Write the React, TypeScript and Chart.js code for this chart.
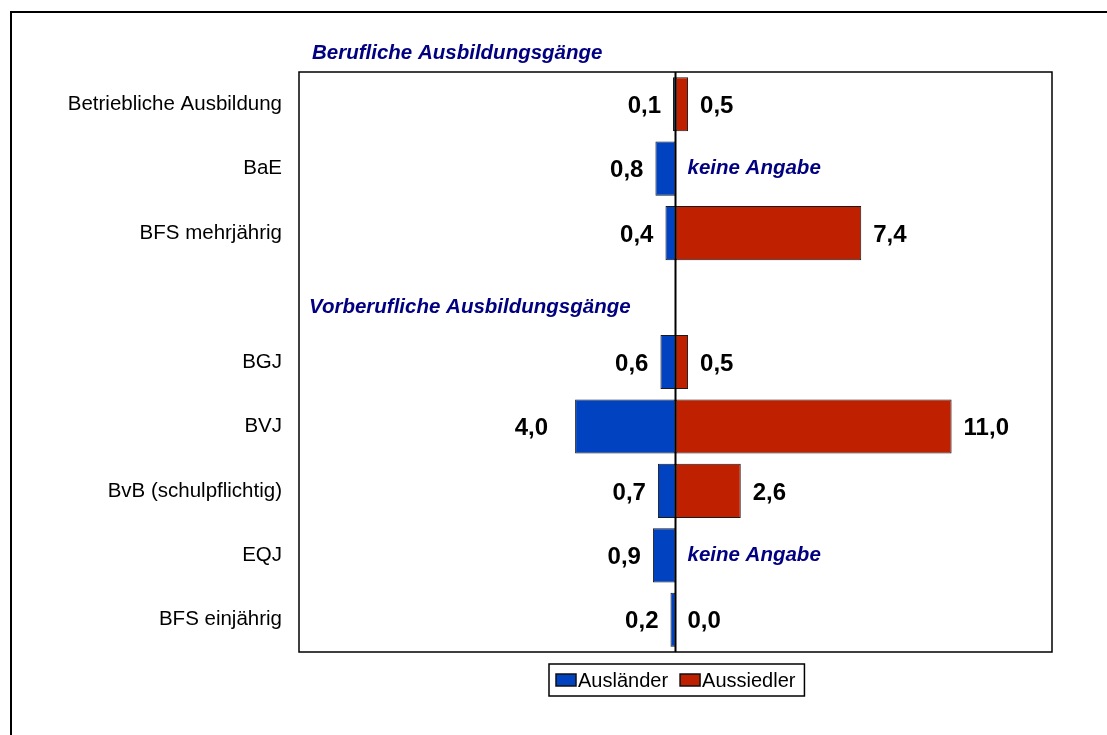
import React, { useEffect, useRef } from "react";
import { Chart, registerables } from "chart.js";

Chart.register(...registerables);

const categories = [
  "Betriebliche Ausbildung",
  "BaE",
  "BFS mehrjährig",
  "",
  "BGJ",
  "BVJ",
  "BvB (schulpflichtig)",
  "EQJ",
  "BFS einjährig",
];
const auslaender: (number | null)[] = [0.1, 0.8, 0.4, null, 0.6, 4.0, 0.7, 0.9, 0.2];
const aussiedler: (number | null)[] = [0.5, null, 7.4, null, 0.5, 11.0, 2.6, null, 0.0];
const seriesNames = ["Ausländer", "Aussiedler"];
const sectionHeaders = ["Berufliche Ausbildungsgänge", "Vorberufliche Ausbildungsgänge"];
const noDataText = "keine Angabe";
const axisMin = -15;
const axisMax = 15;

const FONT = "'Liberation Sans', Arial, Helvetica, sans-serif";
const BLUE = "#0042C0";
const RED = "#BE2000";
const NAVY = "#000080";

const fmt = (v: number) => Math.abs(v).toFixed(1).replace(".", ",");

const decorPlugin = {
  id: "decor",
  beforeDraw(chart: any) {
    const ctx = chart.ctx;
    ctx.save();
    ctx.fillStyle = "#fff";
    ctx.fillRect(0, 0, chart.width, chart.height);
    ctx.strokeStyle = "#000";
    ctx.lineWidth = 2;
    ctx.strokeRect(11, 12, chart.width + 40, chart.height + 40);
    ctx.restore();
  },
  afterDatasetsDraw(chart: any) {
    const { ctx, chartArea: a, scales } = chart;
    const xs = scales.x;
    const ys = scales.y;
    const x0 = xs.getPixelForValue(0);
    ctx.save();
    // plot border
    ctx.strokeStyle = "#000";
    ctx.lineWidth = 1.5;
    ctx.strokeRect(a.left, a.top, a.right - a.left, a.bottom - a.top);
    // zero line
    ctx.lineWidth = 2;
    ctx.beginPath();
    ctx.moveTo(x0, a.top);
    ctx.lineTo(x0, a.bottom);
    ctx.stroke();

    // value labels
    const sources = [auslaender, aussiedler];
    ctx.textBaseline = "middle";
    sources.forEach((arr, di) => {
      arr.forEach((v, i) => {
        const y = ys.getPixelForValue(i);
        if (v === null) {
          if (di === 1 && categories[i]) {
            ctx.font = `italic bold 20.5px ${FONT}`;
            ctx.fillStyle = NAVY;
            ctx.textAlign = "left";
            ctx.fillText(noDataText, x0 + 12, y);
          }
          return;
        }
        ctx.font = `bold 24px ${FONT}`;
        ctx.fillStyle = "#000";
        if (di === 0) {
          const xe = xs.getPixelForValue(-v);
          // wide bars get their label pushed a bit further out (as in the original)
          const gap = v >= 2 ? 27 : 12;
          ctx.textAlign = "right";
          ctx.fillText(fmt(v), xe - gap, y + 2);
        } else {
          const xe = xs.getPixelForValue(v);
          ctx.textAlign = "left";
          ctx.fillText(fmt(v), xe + 12, y + 2);
        }
      });
    });

    // section headers
    ctx.font = `italic bold 20.5px ${FONT}`;
    ctx.fillStyle = NAVY;
    ctx.textAlign = "left";
    ctx.fillText(sectionHeaders[0], a.left + 13, a.top - 19);
    ctx.fillText(sectionHeaders[1], a.left + 10, ys.getPixelForValue(3) + 10);

    // legend
    ctx.font = `20px ${FONT}`;
    const colors = [BLUE, RED];
    const sw = 20, sh = 12, padL = 7, padR = 9, gapText = 2, gapItem = 12;
    const widths = seriesNames.map((n) => ctx.measureText(n).width);
    let total = padL + padR;
    widths.forEach((w, i) => {
      total += sw + gapText + w + (i < widths.length - 1 ? gapItem : 0);
    });
    const cx = (a.left + a.right) / 2 + 1;
    const lx = Math.round(cx - total / 2);
    const ly = a.bottom + 12;
    const lh = 32;
    ctx.fillStyle = "#fff";
    ctx.fillRect(lx, ly, total, lh);
    ctx.strokeStyle = "#000";
    ctx.lineWidth = 1.5;
    ctx.strokeRect(lx, ly, total, lh);
    let x = lx + padL;
    const cy = ly + lh / 2;
    seriesNames.forEach((n, i) => {
      ctx.fillStyle = colors[i];
      ctx.fillRect(x, cy - sh / 2, sw, sh);
      ctx.lineWidth = 1.5;
      ctx.strokeStyle = "#111";
      ctx.strokeRect(x, cy - sh / 2, sw, sh);
      ctx.fillStyle = "#000";
      ctx.textAlign = "left";
      ctx.textBaseline = "middle";
      ctx.fillText(n, x + sw + gapText, cy + 1);
      x += sw + gapText + widths[i] + gapItem;
    });
    ctx.restore();
  },
};

export default function App() {
  const ref = useRef<HTMLCanvasElement | null>(null);
  useEffect(() => {
    if (!ref.current) return;
    const chart = new Chart(ref.current, {
      type: "bar",
      data: {
        labels: categories,
        datasets: [
          {
            label: seriesNames[0],
            data: auslaender.map((v) => (v === null ? null : -v)),
            backgroundColor: BLUE,
            borderColor: "#1a1a1a",
            borderWidth: 1,
            borderSkipped: false,
            categoryPercentage: 0.84,
            barPercentage: 1,
          },
          {
            label: seriesNames[1],
            data: aussiedler,
            backgroundColor: RED,
            borderColor: "#1a1a1a",
            borderWidth: 1,
            borderSkipped: false,
            categoryPercentage: 0.84,
            barPercentage: 1,
          },
        ],
      },
      options: {
        indexAxis: "y",
        responsive: false,
        animation: false,
        devicePixelRatio: 1,
        layout: { padding: { left: 0, right: 55, top: 72, bottom: 83 } },
        plugins: {
          legend: { display: false },
          tooltip: { enabled: false },
        },
        scales: {
          x: {
            display: false,
            min: axisMin,
            max: axisMax,
            stacked: true,
          },
          y: {
            stacked: true,
            grid: { display: false, drawTicks: false },
            border: { display: false },
            ticks: {
              padding: 17,
              color: "#000",
              font: { family: FONT, size: 20.5 },
            },
            afterFit: (scale: any) => {
              scale.width = 299;
            },
          },
        },
      },
      plugins: [decorPlugin],
    });
    return () => chart.destroy();
  }, []);
  return (
    <div style={{ position: "fixed", left: 0, top: 0, width: 1107, height: 735 }}>
      <canvas ref={ref} width={1107} height={735} style={{ display: "block" }} />
    </div>
  );
}
